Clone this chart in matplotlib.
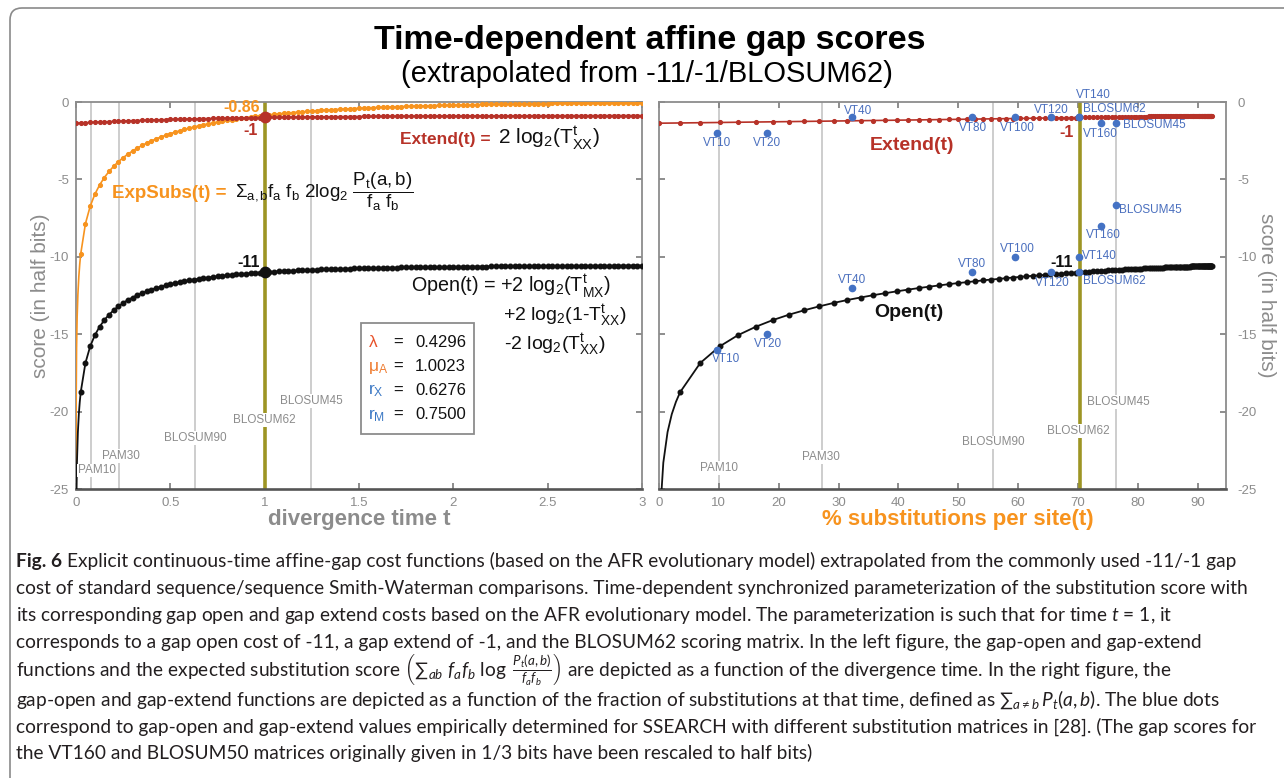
import matplotlib
matplotlib.use("Agg")
import matplotlib.pyplot as plt
from matplotlib.patches import FancyBboxPatch, Rectangle
from matplotlib.transforms import IdentityTransform

plt.rcParams['font.family'] = ['Liberation Sans', 'DejaVu Sans']
plt.rcParams['axes.unicode_minus'] = False
plt.rcParams['mathtext.fontset'] = 'custom'
plt.rcParams['mathtext.default'] = 'regular'
plt.rcParams['mathtext.rm'] = 'Lato'
plt.rcParams['mathtext.it'] = 'Lato:italic'
plt.rcParams['mathtext.bf'] = 'Lato:bold'

# divergence times sampled for the curves
t_grid = [0.0, 0.025, 0.05, 0.075, 0.1, 0.125, 0.15, 0.175, 0.2, 0.225,
          0.25, 0.275, 0.3, 0.325, 0.35, 0.375, 0.4, 0.425, 0.45, 0.475,
          0.5, 0.525, 0.55, 0.575, 0.6, 0.625, 0.65, 0.675, 0.7, 0.725,
          0.75, 0.775, 0.8, 0.825, 0.85, 0.875, 0.9, 0.925, 0.95, 0.975,
          1.0, 1.025, 1.05, 1.075, 1.1, 1.125, 1.15, 1.175, 1.2, 1.225,
          1.25, 1.275, 1.3, 1.325, 1.35, 1.375, 1.4, 1.425, 1.45, 1.475,
          1.5, 1.525, 1.55, 1.575, 1.6, 1.625, 1.65, 1.675, 1.7, 1.725,
          1.75, 1.775, 1.8, 1.825, 1.85, 1.875, 1.9, 1.925, 1.95, 1.975,
          2.0, 2.025, 2.05, 2.075, 2.1, 2.125, 2.15, 2.175, 2.2, 2.225,
          2.25, 2.275, 2.3, 2.325, 2.35, 2.375, 2.4, 2.425, 2.45, 2.475,
          2.5, 2.525, 2.55, 2.575, 2.6, 2.625, 2.65, 2.675, 2.7, 2.725,
          2.75, 2.775, 2.8, 2.825, 2.85, 2.875, 2.9, 2.925, 2.95, 2.975, 3.0]

# gap extend score, one value per t_grid entry
extend_score = [-1.370, -1.354, -1.338, -1.323, -1.308, -1.294, -1.280, -1.267, -1.254, -1.242,
                -1.230, -1.218, -1.207, -1.196, -1.185, -1.175, -1.165, -1.156, -1.146, -1.137,
                -1.129, -1.120, -1.112, -1.104, -1.096, -1.089, -1.082, -1.075, -1.068, -1.062,
                -1.055, -1.049, -1.044, -1.038, -1.032, -1.027, -1.022, -1.017, -1.012, -1.007,
                -1.000, -0.997, -0.994, -0.990, -0.986, -0.982, -0.978, -0.975, -0.971, -0.968,
                -0.964, -0.961, -0.958, -0.955, -0.952, -0.950, -0.947, -0.944, -0.942, -0.939,
                -0.937, -0.935, -0.932, -0.930, -0.928, -0.926, -0.924, -0.922, -0.920, -0.919,
                -0.917, -0.915, -0.914, -0.912, -0.911, -0.909, -0.908, -0.906, -0.905, -0.904,
                -0.903, -0.901, -0.900, -0.899, -0.898, -0.897, -0.896, -0.895, -0.894, -0.893,
                -0.892, -0.891, -0.890, -0.890, -0.889, -0.888, -0.887, -0.887, -0.886, -0.885,
                -0.885, -0.884, -0.883, -0.883, -0.882, -0.882, -0.881, -0.881, -0.880, -0.880,
                -0.879, -0.879, -0.878, -0.878, -0.877, -0.877, -0.877, -0.876, -0.876, -0.876, -0.875]

# gap open score for t_grid[1:] (undefined at t = 0)
open_score = [-18.75, -16.86, -15.79, -15.06, -14.52, -14.09, -13.74, -13.45, -13.20, -12.98,
              -12.79, -12.63, -12.48, -12.35, -12.23, -12.12, -12.02, -11.93, -11.85, -11.77,
              -11.70, -11.64, -11.58, -11.52, -11.47, -11.43, -11.38, -11.34, -11.30, -11.26,
              -11.23, -11.20, -11.17, -11.14, -11.11, -11.09, -11.06, -11.04, -11.02, -11.00,
              -10.98, -10.96, -10.94, -10.93, -10.91, -10.90, -10.88, -10.87, -10.86, -10.84,
              -10.83, -10.82, -10.81, -10.80, -10.79, -10.78, -10.77, -10.76, -10.75, -10.75,
              -10.74, -10.73, -10.73, -10.72, -10.71, -10.71, -10.70, -10.70, -10.69, -10.69,
              -10.68, -10.68, -10.67, -10.67, -10.66, -10.66, -10.66, -10.65, -10.65, -10.65,
              -10.64, -10.64, -10.64, -10.63, -10.63, -10.63, -10.63, -10.62, -10.62, -10.62,
              -10.62, -10.61, -10.61, -10.61, -10.61, -10.61, -10.60, -10.60, -10.60, -10.60,
              -10.60, -10.60, -10.59, -10.59, -10.59, -10.59, -10.59, -10.59, -10.58, -10.58,
              -10.58, -10.58, -10.58, -10.58, -10.58, -10.57, -10.57, -10.57, -10.57, -10.57]

# expected substitution score for t_grid[1:]
expsubs_score = [-9.814, -7.862, -6.741, -5.959, -5.362, -4.884, -4.486, -4.148, -3.854, -3.597,
                 -3.368, -3.162, -2.977, -2.808, -2.654, -2.512, -2.382, -2.261, -2.149, -2.044,
                 -1.947, -1.856, -1.770, -1.690, -1.614, -1.543, -1.476, -1.412, -1.352, -1.295,
                 -1.241, -1.190, -1.141, -1.095, -1.051, -1.009, -0.969, -0.931, -0.895, -0.860,
                 -0.827, -0.795, -0.765, -0.736, -0.708, -0.681, -0.656, -0.631, -0.608, -0.585,
                 -0.564, -0.543, -0.523, -0.504, -0.486, -0.468, -0.451, -0.435, -0.420, -0.404,
                 -0.390, -0.376, -0.363, -0.350, -0.338, -0.326, -0.314, -0.303, -0.293, -0.282,
                 -0.272, -0.263, -0.254, -0.245, -0.236, -0.228, -0.220, -0.213, -0.205, -0.198,
                 -0.191, -0.185, -0.178, -0.172, -0.166, -0.161, -0.155, -0.150, -0.145, -0.140,
                 -0.135, -0.130, -0.126, -0.122, -0.118, -0.114, -0.110, -0.106, -0.102, -0.099,
                 -0.096, -0.092, -0.089, -0.086, -0.083, -0.080, -0.078, -0.075, -0.073, -0.070,
                 -0.068, -0.065, -0.063, -0.061, -0.059, -0.057, -0.055, -0.053, -0.052, -0.050]

# % substitutions per site at each t_grid entry
subs_pct = [0.00,
            3.52, 6.89, 10.12, 13.20, 16.16, 18.99, 21.70, 24.30, 26.78, 29.17,
            31.46, 33.66, 35.77, 37.79, 39.73, 41.60, 43.39, 45.12, 46.77, 48.37,
            49.90, 51.37, 52.79, 54.16, 55.47, 56.74, 57.96, 59.13, 60.27, 61.36,
            62.41, 63.43, 64.41, 65.35, 66.26, 67.14, 68.00, 68.82, 69.61, 70.38,
            71.12, 71.83, 72.53, 73.19, 73.84, 74.47, 75.07, 75.66, 76.22, 76.77,
            77.30, 77.82, 78.31, 78.80, 79.26, 79.72, 80.15, 80.58, 80.99, 81.39,
            81.77, 82.15, 82.51, 82.86, 83.20, 83.53, 83.86, 84.17, 84.47, 84.76,
            85.05, 85.32, 85.59, 85.85, 86.10, 86.35, 86.58, 86.81, 87.04, 87.26,
            87.47, 87.67, 87.87, 88.06, 88.25, 88.43, 88.61, 88.78, 88.95, 89.11,
            89.27, 89.42, 89.57, 89.72, 89.86, 89.99, 90.13, 90.26, 90.38, 90.50,
            90.62, 90.74, 90.85, 90.96, 91.06, 91.17, 91.27, 91.36, 91.46, 91.55,
            91.64, 91.72, 91.81, 91.89, 91.97, 92.05, 92.12, 92.20, 92.27, 92.34]

# steep part of the curves close to t = 0 (line only)
t_near0 = [0.002, 0.005, 0.01, 0.015, 0.02]
open_near0 = [-25.93, -23.30, -21.32, -20.17, -19.37]
pct_near0 = [0.29, 0.72, 1.43, 2.13, 2.83]
t_near0_subs = [0.0001, 0.0003, 0.001, 0.003, 0.006, 0.01, 0.015, 0.02]
expsubs_near0 = [-25.70, -22.53, -19.05, -15.89, -13.89, -12.43, -11.27, -10.45]

# values at t = 1 (BLOSUM62 / -11 / -1)
t_ref = 1.0
open_ref, extend_ref, expsubs_ref = -11, -1, -0.86

# standard matrices as reference lines
ref_names = ['PAM10', 'PAM30', 'BLOSUM90', 'BLOSUM62', 'BLOSUM45']
ref_time = [0.078, 0.229, 0.63, 1.0, 1.246]
ref_pct = [10.1, 27.3, 55.8, 70.38, 76.4]

# SSEARCH gap costs for VT / BLOSUM matrices (half bits)
vt_names = ['VT10', 'VT20', 'VT40', 'VT80', 'VT100', 'VT120', 'VT140', 'BLOSUM62', 'VT160', 'BLOSUM45']
vt_pct = [9.7, 18.1, 32.2, 52.3, 59.5, 65.4, 70.2, 70.2, 73.9, 76.4]
vt_extend = [-2, -2, -1, -1, -1, -1, -1, -1, -1.33, -1.33]
vt_open = [-16, -15, -12, -11, -10, -11, -10, -11, -8, -6.67]

# model parameters
param_names = ['λ', 'μ$_A$', 'r$_X$', 'r$_M$']
param_values = [0.4296, 1.0023, 0.6276, 0.7500]

red = '#b73228'
orange = '#f7931e'
olive = '#9d9524'
gray_txt = '#8c8c8c'
line_gray = '#c9c9c9'
blue = '#4472c4'
blue_txt = '#4a6fbe'

W, H = 1284, 778
fig = plt.figure(figsize=(W / 100, H / 100), dpi=100)


def fx(px):
    return px / W


def fy(py):
    return 1 - py / H


# page frame
frame = FancyBboxPatch((10, -40), 1340, H - 8 + 40, boxstyle='round,pad=0,rounding_size=12',
                       transform=IdentityTransform(), fill=False, ec='#8a8a8a', lw=1.2)
fig.add_artist(frame)

fig.text(fx(650), fy(40), 'Time-dependent affine gap scores', ha='center', va='center',
         fontsize=24.5, fontweight='bold', color='black')
fig.text(fx(647), fy(74), '(extrapolated from -11/-1/BLOSUM62)', ha='center', va='center',
         fontsize=21, color='black')

ax1 = fig.add_axes([fx(76), fy(489), (642 - 76) / W, (489 - 102) / H])
ax2 = fig.add_axes([fx(659), fy(489), (1226 - 659) / W, (489 - 102) / H])


def style(ax):
    for s in ['left', 'right', 'top']:
        ax.spines[s].set_color('#8c8c8c')
        ax.spines[s].set_linewidth(1.3)
    ax.spines['bottom'].set_color('#555555')
    ax.spines['bottom'].set_linewidth(1.9)
    ax.tick_params(direction='in', length=4, width=1.2, color='#7a7a7a', labelcolor=gray_txt,
                   labelsize=9.5, top=True, right=True, left=True, bottom=True)
    ax.tick_params(axis='x', pad=6)
    ax.set_ylim(-25, 0)
    ax.set_yticks([0, -5, -10, -15, -20, -25])


style(ax1)
style(ax2)

# ---------------- left panel: against divergence time ----------------
ax1.set_xlim(0, 3)
ax1.set_xticks([0, 0.5, 1, 1.5, 2, 2.5, 3])
ax1.set_xticklabels(['0', '0.5', '1', '1.5', '2', '2.5', '3'])
ax1.tick_params(axis='y', pad=5)

for name, tv in zip(ref_names, ref_time):
    if name == 'BLOSUM62':
        ax1.axvline(tv, color=olive, lw=2.6, zorder=2)
    else:
        ax1.axvline(tv, color=line_gray, lw=1.3, zorder=1)

ref_lab_left = [(0.111, -23.8), (0.24, -22.85), (0.63, -21.7), (1.0, -20.55), (1.246, -19.3)]
for name, (xl, yl) in zip(ref_names, ref_lab_left):
    ax1.text(xl, yl, name, ha='center', va='center', fontsize=8.5, color=gray_txt, zorder=4,
             bbox=dict(fc='white', ec='none', pad=0.6))

t_open = t_grid[1:]
ax1.plot(t_near0_subs + t_open, expsubs_near0 + expsubs_score, color=orange, lw=1.2, zorder=3)
ax1.plot(t_open, expsubs_score, 'o', ms=2.7, color=orange, zorder=3)
ax1.plot(t_grid, extend_score, '-o', color=red, lw=1.2, ms=2.7, zorder=3)
ax1.plot(t_near0 + t_open, open_near0 + open_score, color='#111111', lw=1.3, zorder=3)
ax1.plot(t_open, open_score, 'o', ms=3.3, color='#111111', zorder=3)
ax1.plot([t_ref], [extend_ref], 'o', ms=7.5, color=red, zorder=5)
ax1.plot([t_ref], [open_ref], 'o', ms=7.5, color='#111111', zorder=5)

ax1.text(0.977, -0.36, '%.2f' % expsubs_ref, ha='right', va='center', fontsize=11.5,
         fontweight='bold', color=orange, zorder=6)
ax1.text(0.963, -1.87, '%d' % extend_ref, ha='right', va='center', fontsize=11.5,
         fontweight='bold', color=red, zorder=6)
ax1.text(0.973, -10.37, '%d' % open_ref, ha='right', va='center', fontsize=11.5,
         fontweight='bold', color='#111111', zorder=6)

ax1.text(1.715, -2.7, 'Extend(t) =', ha='left', va='baseline', fontsize=12.5,
         fontweight='bold', color=red, zorder=6)
ax1.text(2.235, -2.7, r'2 log$_2$($T^{t}_{XX}$)', ha='left', va='baseline', fontsize=15,
         color='#111111', zorder=6)

ax1.text(0.1885, -6.19, 'ExpSubs(t) =', ha='left', va='baseline', fontsize=13.5,
         fontweight='bold', color=orange, zorder=6)
ax1.text(0.844, -6.19, r'Σ$_{a,b}$f$_a$ f$_b$ 2log$_2$ $\dfrac{P_t(a,b)}{f_a\ f_b}$',
         ha='left', va='baseline', fontsize=13.5, color='#111111', zorder=6)

ax1.text(1.774, -12.24, r'Open(t) = +2 log$_2$($T^{t}_{MX}$)', ha='left', va='baseline',
         fontsize=14.2, color='#111111', zorder=6)
ax1.text(2.262, -14.14, r'+2 log$_2$(1-$T^{t}_{XX}$)', ha='left', va='baseline',
         fontsize=14, color='#111111', zorder=6)
ax1.text(2.268, -16.01, r'-2 log$_2$($T^{t}_{XX}$)', ha='left', va='baseline',
         fontsize=14, color='#111111', zorder=6)

# parameter box
ax1.add_patch(Rectangle((1.513, -21.46), 0.598, 7.16, fc='white', ec='#8c8c8c', lw=1.3, zorder=5))
sym_colors = ['#e8522a', '#ef7d32', '#3b78c4', '#3b78c4']
row_base = [-15.8, -17.35, -18.9, -20.5]
for name, val, c, yb in zip(param_names, param_values, sym_colors, row_base):
    ax1.text(1.55, yb, name, ha='left', va='baseline', fontsize=12.5, color=c, zorder=6)
    ax1.text(1.71, yb, '=', ha='center', va='baseline', fontsize=12, color='#111111', zorder=6)
    ax1.text(1.798, yb, '%.4f' % val, ha='left', va='baseline', fontsize=12, color='#111111', zorder=6)

ax1.set_xlabel('divergence time t', fontsize=16, fontweight='bold', color=gray_txt, va='center')
ax1.xaxis.set_label_coords(0.5, -0.08)
ax1.set_ylabel('score (in half bits)', fontsize=15, color=gray_txt, va='center')
ax1.yaxis.set_label_coords(-0.0636, 0.5)

# ---------------- right panel: against % substitutions ----------------
ax2.set_xlim(0, 94.7)
ax2.set_xticks(range(0, 100, 10))
ax2.tick_params(axis='y', labelleft=False, labelright=True, pad=8)

for name, pv in zip(ref_names, ref_pct):
    if name == 'BLOSUM62':
        ax2.axvline(subs_pct[t_grid.index(t_ref)], color=olive, lw=2.6, zorder=2)
    else:
        ax2.axvline(pv, color=line_gray, lw=1.3, zorder=1)

ref_lab_right = [(10.0, -23.65), (27.0, -22.95), (55.8, -21.99), (70.1, -21.24), (76.8, -19.38)]
for name, (xl, yl) in zip(ref_names, ref_lab_right):
    ax2.text(xl, yl, name, ha='center', va='center', fontsize=8.5, color=gray_txt, zorder=4,
             bbox=dict(fc='white', ec='none', pad=0.6))

pct_open = subs_pct[1:]
ax2.plot(subs_pct, extend_score, '-o', color=red, lw=1.2, ms=2.7, zorder=3)
ax2.plot(pct_near0 + pct_open, open_near0 + open_score, color='#111111', lw=1.3, zorder=3)
ax2.plot(pct_open, open_score, 'o', ms=3.3, color='#111111', zorder=3)

ax2.plot(vt_pct, vt_extend, 'o', ms=4.5, color=blue, zorder=5)
ax2.plot(vt_pct, vt_open, 'o', ms=4.5, color=blue, zorder=5)

# label offsets in points: (dx, dy, ha)
ext_lab = [(0, -7, 'center'), (0, -7, 'center'), (4.8, 4.9, 'center'), (0.6, -7.3, 'center'),
           (1.7, -7.3, 'center'), (0.4, 5.2, 'center'), (10.4, 16.5, 'center'), (2.4, 6.2, 'left'),
           (-0.5, -8.2, 'center'), (4.7, -1.5, 'left')]
open_lab = [(6.4, -7, 'center'), (0.4, -7.3, 'center'), (0.3, 5.9, 'center'), (0, 6.3, 'center'),
            (1.9, 5.9, 'center'), (1.2, -7.6, 'center'), (1.8, 0.4, 'left'), (2.4, -6.5, 'left'),
            (1.5, -6.3, 'center'), (1.7, -3.2, 'left')]
for name, xv, ye, yo, le, lo in zip(vt_names, vt_pct, vt_extend, vt_open, ext_lab, open_lab):
    ax2.annotate(name, (xv, ye), xytext=(le[0], le[1]), textcoords='offset points',
                 ha=le[2], va='center', fontsize=8.5, color=blue_txt, zorder=6,
                 annotation_clip=False)
    ax2.annotate(name, (xv, yo), xytext=(lo[0], lo[1]), textcoords='offset points',
                 ha=lo[2], va='center', fontsize=8.5, color=blue_txt, zorder=6)

ax2.text(42.3, -2.84, 'Extend(t)', ha='center', va='center', fontsize=14, fontweight='bold',
         color=red, zorder=6)
ax2.text(41.7, -13.61, 'Open(t)', ha='center', va='center', fontsize=14, fontweight='bold',
         color='#111111', zorder=6)
ax2.text(68.0, -1.97, '%d' % extend_ref, ha='center', va='center', fontsize=11.5,
         fontweight='bold', color=red, zorder=6)
ax2.text(69.2, -10.35, '%d' % open_ref, ha='right', va='center', fontsize=11.5,
         fontweight='bold', color='#111111', zorder=6)

ax2.set_xlabel('% substitutions per site(t)', fontsize=16, fontweight='bold', color=orange,
               va='center')
ax2.xaxis.set_label_coords(0.527, -0.08)
ax2.yaxis.set_label_position('right')
ax2.set_ylabel('score (in half bits)', fontsize=15, color=gray_txt, rotation=270, va='center')
ax2.yaxis.set_label_coords(1.0716, 0.5)

# ---------------- caption ----------------
cap_color = '#231f20'
cap_size = 13.75
SUM = '\u2211'
caption_lines = [
    'Explicit continuous-time affine-gap cost functions (based on the AFR evolutionary model) '
    'extrapolated from the commonly used -11/-1 gap',
    'cost of standard sequence/sequence Smith-Waterman comparisons. Time-dependent synchronized '
    'parameterization of the substitution score with',
    r'its corresponding gap open and gap extend costs based on the AFR evolutionary model. '
    r'The parameterization is such that for time $\mathit{t}$ = 1, it',
    'corresponds to a gap open cost of -11, a gap extend of -1, and the BLOSUM62 scoring matrix. '
    'In the left figure, the gap-open and gap-extend',
    'functions and the expected substitution score '
    '$\\left(' + SUM + '_{\\mathit{ab}}\\ \\mathit{f_a f_b}\\ \\log\\ '
    '\\frac{\\mathit{P_t(a,b)}}{\\mathit{f_a f_b}}\\right)$'
    ' are depicted as a function of the divergence time. In the right figure, the',
    'gap-open and gap-extend functions are depicted as a function of the fraction of substitutions '
    'at that time, defined as $' + SUM + '_{\\mathit{a}\\neq \\mathit{b}}\\,\\mathit{P_t(a,b)}$. '
    'The blue dots',
    'correspond to gap-open and gap-extend values empirically determined for SSEARCH with '
    'different substitution matrices in [28]. (The gap scores for',
    'the VT160 and BLOSUM50 matrices originally given in 1/3 bits have been rescaled to half bits)',
]
cap_base = [567, 594, 621, 648, 676, 706, 733, 759]

fig_lab = fig.text(fx(16), fy(cap_base[0]), 'Fig. 6', fontsize=cap_size, fontweight='bold',
                   family=['Lato', 'DejaVu Sans'], va='baseline', color=cap_color)
renderer = fig.canvas.get_renderer()
x_after = fig_lab.get_window_extent(renderer).x1 + 5
for i, (line, yb) in enumerate(zip(caption_lines, cap_base)):
    x0 = x_after / W if i == 0 else fx(16)
    fig.text(x0, fy(yb), line, fontsize=cap_size, family=['Lato', 'DejaVu Sans'],
             va='baseline', ha='left', color=cap_color)

fig.savefig('out.png', dpi=100)
